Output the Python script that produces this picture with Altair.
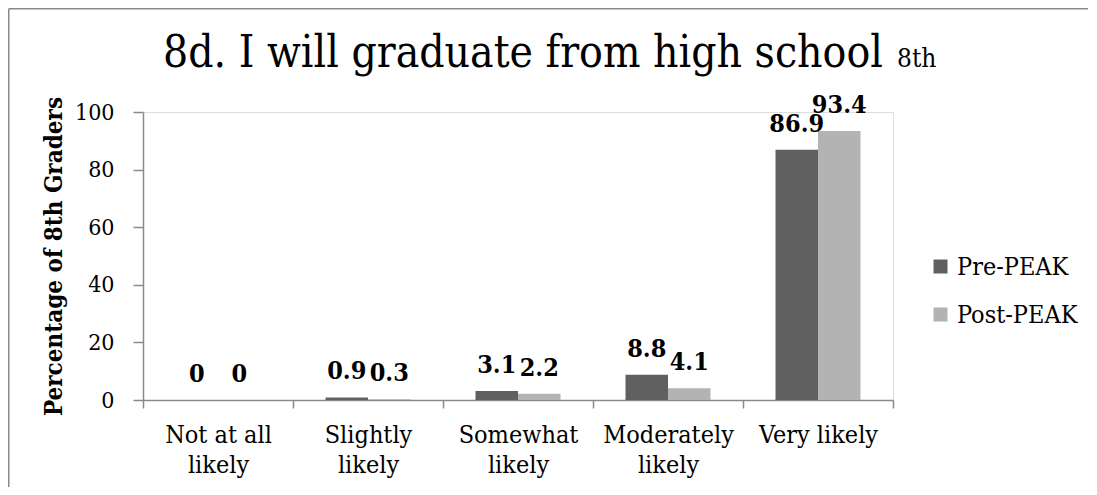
import altair as alt
import pandas as pd

categories = ["Not at all likely", "Slightly likely", "Somewhat likely", "Moderately likely", "Very likely"]
series = ["Pre-PEAK", "Post-PEAK"]
pre_values = [0, 0.9, 3.1, 8.8, 86.9]
post_values = [0, 0.3, 2.2, 4.1, 93.4]
colors = ["#606060", "#b3b3b3"]
y_ticks = [0, 20, 40, 60, 80, 100]
title_main = "8d. I will graduate from high school"
title_suffix = "8th"
y_title = "Percentage of 8th Graders"

rows = []
for c, a, b in zip(categories, pre_values, post_values):
    rows.append({"category": c, "series": series[0], "value": a, "label": f"{a:g}"})
    rows.append({"category": c, "series": series[1], "value": b, "label": f"{b:g}"})
df = pd.DataFrame(rows)

FONT = "DejaVu Serif Condensed"
AXIS_GREY = "#8a8a8a"
W, H = 750, 288

x_enc = alt.X(
    "category:N",
    sort=categories,
    scale=alt.Scale(paddingInner=0, paddingOuter=0),
    axis=alt.Axis(
        title=None, labelAngle=0, tickBand="extent", tickSize=8, tickWidth=1.5,
        tickColor=AXIS_GREY, domainColor=AXIS_GREY, domainWidth=1.5,
        labelFont=FONT, labelFontSize=25, labelColor="black", labelPadding=14,
        labelLineHeight=30, labelBaseline="top",
        labelExpr="(datum.label == '' || datum.label == 'Very likely') ? datum.label : [slice(datum.label, 0, length(datum.label) - 7), 'likely']",
    ),
)
xoff_enc = alt.XOffset("series:N", sort=series, scale=alt.Scale(paddingInner=0, paddingOuter=0.765))
y_enc = alt.Y(
    "value:Q",
    scale=alt.Scale(domain=[0, 100], nice=False),
    axis=alt.Axis(
        values=y_ticks, title=y_title, titleFont=FONT, titleFontSize=24, titleFontWeight="bold",
        titleColor="black", titleAngle=-90, titleX=-89, titleY=144, titleAlign="center",
        titleBaseline="middle", labelFont=FONT, labelFontSize=23, labelColor="black",
        labelPadding=19, tickSize=10, tickWidth=1.5, tickColor=AXIS_GREY,
        domainColor=AXIS_GREY, domainWidth=1.5, grid=False,
    ),
)
color_enc = alt.Color(
    "series:N", sort=series, scale=alt.Scale(domain=series, range=colors),
    legend=alt.Legend(
        title=None, orient="none", legendX=785, legendY=142, symbolType="square",
        symbolSize=196, symbolStrokeWidth=0, labelFont=FONT, labelFontSize=25,
        labelColor="black", rowPadding=22, labelOffset=4, padding=0,
    ),
)

base = alt.Chart(df)
bars = base.mark_bar().encode(x=x_enc, xOffset=xoff_enc, y=y_enc, color=color_enc)
labels = base.mark_text(font=FONT, fontSize=25, fontWeight="bold", baseline="alphabetic", dy=-18, color="black").encode(
    x=alt.X("category:N", sort=categories), xOffset=alt.XOffset("series:N", sort=series), y="value:Q", text="label:N"
)

tdata = alt.Data(values=[{"main": title_main, "suffix": title_suffix}])
title1 = alt.Chart(tdata).mark_text(font=FONT, fontSize=44, align="center", baseline="alphabetic", color="black").encode(
    x=alt.value(380), y=alt.value(-45), text="main:N"
)
title2 = alt.Chart(tdata).mark_text(font=FONT, fontSize=26, align="left", baseline="alphabetic", color="black").encode(
    x=alt.value(754), y=alt.value(-45), text="suffix:N"
)
border_top = alt.Chart(tdata).mark_rule(stroke=AXIS_GREY, strokeWidth=1.5).encode(
    x=alt.value(-134.25), x2=alt.value(945), y=alt.value(-103.25)
)
border_left = alt.Chart(tdata).mark_rule(stroke=AXIS_GREY, strokeWidth=1.5).encode(
    x=alt.value(-134.25), y=alt.value(-103.25), y2=alt.value(375)
)

chart = alt.layer(border_top, border_left, bars, labels, title1, title2).properties(
    width=W, height=H,
    autosize=alt.AutoSizeParams(type="none"),
    padding={"left": 135, "top": 104, "right": 196, "bottom": 87},
).configure_view(stroke=None).configure(background="white")

chart.save("out.html", embed_options={"renderer": "svg", "actions": False})
